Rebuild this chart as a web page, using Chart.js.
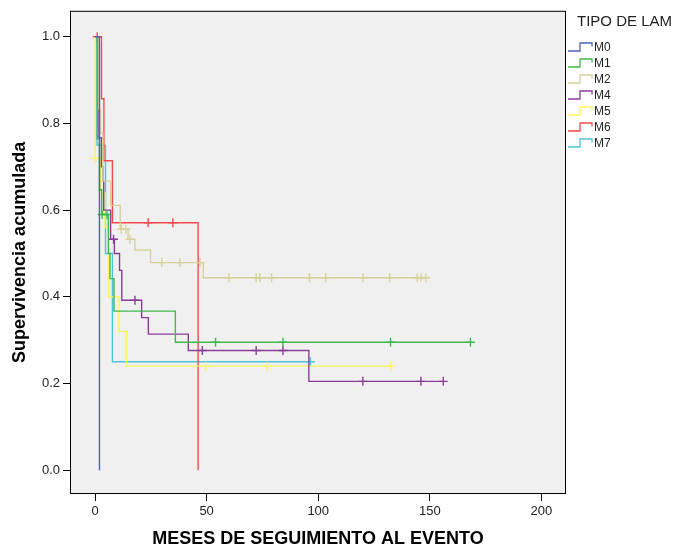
<!DOCTYPE html>
<html>
<head>
<meta charset="utf-8">
<script src="https://cdn.jsdelivr.net/npm/chart.js@4.4.0/dist/chart.umd.min.js"></script>
<style>
  body { margin: 0; background: #fff; }
  #grafico { display: block; }
</style>
</head>
<body>
<canvas id="grafico" width="676" height="550"></canvas>
<script>
// Curvas de supervivencia (Kaplan-Meier) por tipo de LAM
const grupos = ["M0", "M1", "M2", "M4", "M5", "M6", "M7"];
const colores = ["#4d63b8", "#3fb84e", "#d6d19a", "#8a3d98", "#f7f75c", "#f24a4a", "#4cc6d2"];

const tiemposM0 = [0, 2];
const survM0 = [1, 0];
const censM0 = [];

const tiemposM1 = [0, 1, 2, 3, 6, 6.7, 8.5, 36, 168.2];
const survM1 = [1, 0.765, 0.647, 0.59, 0.5, 0.442, 0.367, 0.295, 0.295];
const censM1 = [3.2, 5.4, 54, 84.2, 132.4, 168.2];

const tiemposM2 = [0, 1.5, 2.5, 3.5, 7, 11.3, 14.8, 17.9, 24.9, 48.5, 148.2];
const survM2 = [1, 0.833, 0.778, 0.667, 0.611, 0.556, 0.533, 0.508, 0.479, 0.444, 0.444];
const censM2 = [11.8, 13.8, 15.7, 29.9, 38, 47, 60, 72.2, 73.9, 79.1, 96.1, 103.3, 120.1, 132, 144.3, 146.1, 148.2];

const tiemposM4 = [0, 1.8, 2.9, 3.5, 3.9, 7, 8.7, 11, 12, 20.9, 23.9, 41.8, 95.8, 156];
const survM4 = [1, 0.767, 0.7, 0.667, 0.6, 0.533, 0.5, 0.461, 0.392, 0.352, 0.314, 0.276, 0.205, 0.205];
const censM4 = [8.3, 17.9, 48.1, 72.2, 84.2, 120, 146, 156];

const tiemposM5 = [0, 0.1, 2.5, 4.5, 6, 10.7, 14.1, 132.5];
const survM5 = [1, 0.72, 0.64, 0.56, 0.4, 0.32, 0.24, 0.24];
const censM5 = [0.2, 49.6, 77.2, 132.5];

const tiemposM6 = [0, 2.9, 4, 7.8, 46.2];
const survM6 = [1, 0.857, 0.714, 0.571, 0];
const censM6 = [1, 23.8, 34.9];

const tiemposM7 = [0, 0.9, 4.7, 7.8, 96.5];
const survM7 = [1, 0.75, 0.5, 0.25, 0.25];
const censM7 = [96.5];

const ticksX = [0, 50, 100, 150, 200];
const ticksY = [0, 0.2, 0.4, 0.6, 0.8, 1.0];

const tiempos = [tiemposM0, tiemposM1, tiemposM2, tiemposM4, tiemposM5, tiemposM6, tiemposM7];
const surv = [survM0, survM1, survM2, survM4, survM5, survM6, survM7];
const censurados = [censM0, censM1, censM2, censM4, censM5, censM6, censM7];

const fuente = "'Liberation Sans', Arial, sans-serif";

// valor de la curva en el tiempo t
function survEn(ts, ss, t) {
    let v = ss[0];
    for (let i = 0; i < ts.length; i++) {
        if (ts[i] <= t) v = ss[i];
    }
    return v;
}

let datasets = [];
grupos.forEach(function (g, i) {
    datasets.push({
        label: g,
        data: tiempos[i].map((t, j) => ({ x: t, y: surv[i][j] })),
        borderColor: colores[i],
        borderWidth: 1.4,
        stepped: true,
        pointRadius: 0,
        fill: false
    });
    datasets.push({
        label: g + " censurado",
        data: censurados[i].map(t => ({ x: t, y: survEn(tiempos[i], surv[i], t) })),
        borderColor: colores[i],
        showLine: false,
        pointStyle: "cross",
        pointRadius: 4.5,
        pointBorderWidth: 1.4
    });
});

// fondo gris y marco del area del grafico
const marco = {
    id: "marco",
    beforeDatasetsDraw(chart) {
        const a = chart.chartArea;
        const c = chart.ctx;
        c.save();
        c.fillStyle = "#f0f0f0";
        c.fillRect(a.left, a.top, a.right - a.left, a.bottom - a.top);
        c.restore();
    },
    afterDatasetsDraw(chart) {
        const a = chart.chartArea;
        const c = chart.ctx;
        c.save();
        c.strokeStyle = "#000";
        c.lineWidth = 1;
        c.strokeRect(a.left + 0.5, a.top + 0.5, a.right - a.left - 1, a.bottom - a.top - 1);
        c.restore();
    }
};

// leyenda a la derecha con iconos escalonados
const leyenda = {
    id: "leyenda",
    afterDraw(chart) {
        const c = chart.ctx;
        const x0 = chart.chartArea.right + 2;
        c.save();
        c.fillStyle = "#222";
        c.font = "15px " + fuente;
        c.textBaseline = "middle";
        c.fillText("TIPO DE LAM", x0 + 9, 22);
        c.font = "12px " + fuente;
        grupos.forEach(function (g, i) {
            const y = 47.5 + i * 16;
            c.strokeStyle = colores[i];
            c.lineWidth = 1.3;
            c.beginPath();
            c.moveTo(x0, y + 3.5);
            c.lineTo(x0 + 12, y + 3.5);
            c.lineTo(x0 + 12, y - 4.5);
            c.lineTo(x0 + 24, y - 4.5);
            c.lineTo(x0 + 24, y - 1);
            c.stroke();
            c.fillStyle = "#222";
            c.fillText(g, x0 + 26, y);
        });
        c.restore();
    }
};

let ctx = document.getElementById("grafico").getContext("2d");
let grafico = new Chart(ctx, {
    type: "line",
    data: { datasets: datasets },
    plugins: [marco, leyenda],
    options: {
        responsive: false,
        animation: false,
        layout: { padding: { top: 6, right: 110, left: 0, bottom: 0 } },
        plugins: {
            legend: { display: false },
            tooltip: { enabled: false }
        },
        scales: {
            x: {
                type: "linear",
                min: -11.2,
                max: 211,
                afterBuildTicks: s => { s.ticks = ticksX.map(v => ({ value: v })); },
                afterFit: s => { s.height = 56; },
                ticks: {
                    color: "#222",
                    font: { family: fuente, size: 13 },
                    padding: 3
                },
                grid: { drawOnChartArea: false, drawTicks: true, tickLength: 7, color: "#000" },
                border: { display: false },
                title: {
                    display: true,
                    text: "MESES DE SEGUIMIENTO AL EVENTO",
                    color: "#000",
                    font: { family: fuente, size: 18, weight: "bold" },
                    padding: { top: 0, bottom: 0 }
                }
            },
            y: {
                type: "linear",
                min: -0.055,
                max: 1.06,
                afterBuildTicks: s => { s.ticks = ticksY.map(v => ({ value: v })); },
                afterFit: s => { s.width = 70; },
                ticks: {
                    color: "#222",
                    font: { family: fuente, size: 13 },
                    padding: 3,
                    callback: v => v.toFixed(1)
                },
                grid: { drawOnChartArea: false, drawTicks: true, tickLength: 7, color: "#000" },
                border: { display: false },
                title: {
                    display: true,
                    text: "Supervivencia acumulada",
                    color: "#000",
                    font: { family: fuente, size: 18, weight: "bold" },
                    padding: { top: 9, bottom: 0 }
                }
            }
        }
    }
});
</script>
</body>
</html>
